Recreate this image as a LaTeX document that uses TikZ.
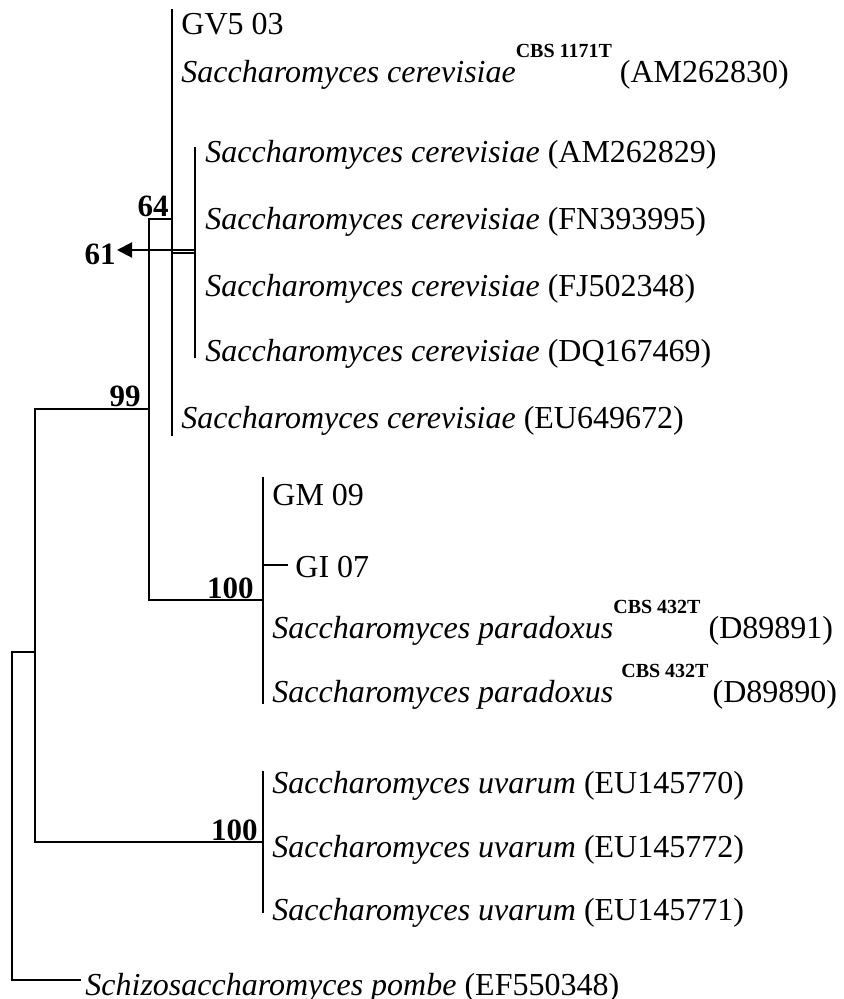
\documentclass[tikz,border=0pt]{standalone}
\usepackage{fontspec}
\setmainfont{Liberation Serif}
\usetikzlibrary{arrows.meta}
\newcommand\typesup[1]{\raisebox{12.5pt}{\fontsize{10}{10}\selectfont\bfseries #1}}
\begin{document}
\begin{tikzpicture}[x=0.5pt,y=-0.5pt,
  branch/.style={line width=1pt, line cap=rect},
  taxon/.style={anchor=base west, inner sep=0pt, font=\fontsize{16}{18}\selectfont},
  boot/.style={anchor=base east, inner sep=0pt, font=\fontsize{15.5}{18}\selectfont\bfseries}]
\useasboundingbox (0,0) rectangle (844,999);

% joints
\coordinate (r1) at (35,409);
\coordinate (r2) at (35,842);
\coordinate (o1) at (12,652);
\coordinate (o2) at (12,980);
\coordinate (o0) at (35,652);
\coordinate (p99a) at (149,219);
\coordinate (p99h) at (149,409);
\coordinate (p99b) at (149,600);
\coordinate (c64) at (172,219);
\coordinate (ctop) at (172,10);
\coordinate (cbot) at (172,435);
\coordinate (c61a) at (172,253);
\coordinate (i61) at (195,253);
\coordinate (i61t) at (195,250);
\coordinate (itop) at (195,148);
\coordinate (ibot) at (195,357);
\coordinate (arrtip) at (117,250);
\coordinate (par) at (263,600);
\coordinate (partop) at (263,478);
\coordinate (parbot) at (263,703);
\coordinate (gi) at (263,565);
\coordinate (giend) at (287,565);
\coordinate (uva) at (263,842);
\coordinate (uvatop) at (263,772);
\coordinate (uvabot) at (263,912);
\coordinate (pomend) at (80,980);

% branches
\draw[branch] (r1) -- (r2);
\draw[branch] (o0) -- (o1) -- (o2) -- (pomend);
\draw[branch] (r1) -- (p99h);
\draw[branch] (p99a) -- (p99b);
\draw[branch] (p99a) -- (c64);
\draw[branch] (ctop) -- (cbot);
\draw[branch] (c61a) -- (i61);
\draw[branch] (itop) -- (ibot);
\draw[line width=1pt, -{Triangle[length=7.5pt,width=7.5pt]}] (i61t) -- (arrtip);
\draw[branch] (p99b) -- (par);
\draw[branch] (partop) -- (parbot);
\draw[branch] (gi) -- (giend);
\draw[branch] (r2) -- (uva);
\draw[branch] (uvatop) -- (uvabot);

% taxa
\node[taxon] (t1) at (181,35) {GV5 03};
\node[taxon] (t2) at (181,83) {\textit{Saccharomyces cerevisiae}\typesup{CBS 1171T} (AM262830)};
\node[taxon] (t3) at (205,163) {\textit{Saccharomyces cerevisiae} (AM262829)};
\node[taxon] (t4) at (205,230) {\textit{Saccharomyces cerevisiae} (FN393995)};
\node[taxon] (t5) at (205,297) {\textit{Saccharomyces cerevisiae} (FJ502348)};
\node[taxon] (t6) at (205,362) {\textit{Saccharomyces cerevisiae} (DQ167469)};
\node[taxon] (t7) at (181,428) {\textit{Saccharomyces cerevisiae} (EU649672)};
\node[taxon] (t8) at (272,505) {GM 09};
\node[taxon] (t9) at (295,577) {GI 07};
\node[taxon] (t10) at (272,638) {\textit{Saccharomyces paradoxus}\typesup{CBS 432T} (D89891)};
\node[taxon] (t11) at (272,702) {\textit{Saccharomyces paradoxus}\hspace{4pt}\typesup{CBS 432T}\hspace{2pt}(D89890)};
\node[taxon] (t12) at (272,793) {\textit{Saccharomyces uvarum} (EU145770)};
\node[taxon] (t13) at (272,857) {\textit{Saccharomyces uvarum} (EU145772)};
\node[taxon] (t14) at (272,920) {\textit{Saccharomyces uvarum} (EU145771)};
\node[taxon] (t15) at (85,995) {\textit{Schizosaccharomyces pombe} (EF550348)};

% bootstrap
\node[boot] (b64) at (169,217) {64};
\node[boot] (b61) at (116,265) {61};
\node[boot] (b99) at (141,407) {99};
\node[boot] (b100a) at (254,598) {100};
\node[boot] (b100b) at (258,840) {100};
\end{tikzpicture}
\end{document}
